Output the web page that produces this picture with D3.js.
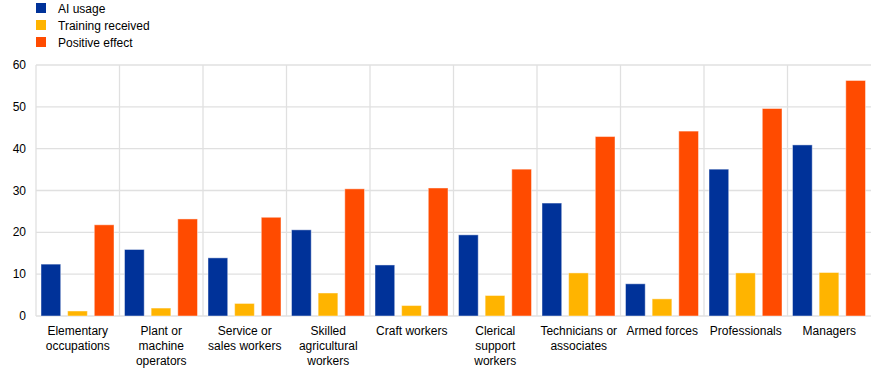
<!DOCTYPE html>
<html><head><meta charset="utf-8">
<script src="https://cdn.jsdelivr.net/npm/d3@7"></script>
<style>body{margin:0;background:#fff}svg{display:block;font-family:"Liberation Sans",Arial,sans-serif}</style>
</head><body><svg id="c" width="876" height="375"></svg>
<script>
const categories = [["Elementary","occupations"],["Plant or","machine","operators"],["Service or","sales workers"],["Skilled","agricultural","workers"],["Craft workers"],["Clerical","support","workers"],["Technicians or","associates"],["Armed forces"],["Professionals"],["Managers"]];
const seriesNames = ["AI usage","Training received","Positive effect"];
const aiUsage = [12.4, 15.9, 13.9, 20.6, 12.2, 19.4, 27.0, 7.7, 35.1, 40.9];
const training = [1.2, 1.9, 3.0, 5.5, 2.5, 4.9, 10.3, 4.1, 10.3, 10.4];
const positive = [21.8, 23.2, 23.6, 30.4, 30.6, 35.1, 42.9, 44.2, 49.6, 56.3];
const yTicks = [0,10,20,30,40,50,60];
const colors = ["#003299","#FFB400","#FF4B00"];

const series = [aiUsage, training, positive];
const svg = d3.select("#c");
const L = 36, R = 871, T = 65, B = 316;
const x = d3.scaleBand().domain(d3.range(categories.length)).range([L, R]);
const xs = d3.scaleBand().domain(d3.range(3)).range([5, x.bandwidth()-5.5]).paddingInner(0.26);
const y = d3.scaleLinear().domain([0,60]).range([B, T]);

// horizontal gridlines
svg.append("g").selectAll("line").data(yTicks).join("line")
  .attr("x1", L).attr("x2", R).attr("y1", d=>y(d)).attr("y2", d=>y(d))
  .attr("stroke", "#e0e0e0").attr("stroke-width", 1.3);
// vertical gridlines
svg.append("g").selectAll("line").data(d3.range(categories.length)).join("line")
  .attr("x1", d=>x(d)).attr("x2", d=>x(d)).attr("y1", T).attr("y2", B)
  .attr("stroke", "#e0e0e0").attr("stroke-width", 1.3);

// y labels
svg.append("g").selectAll("text").data(yTicks).join("text")
  .attr("x", 26).attr("y", d=>y(d)+4).attr("text-anchor","end")
  .attr("font-size", 12).attr("fill","#000").text(d=>d);

// bars
series.forEach((vals, si) => {
  svg.append("g").selectAll("rect").data(vals).join("rect")
    .attr("x", (d,i)=>x(i)+xs(si)).attr("width", xs.bandwidth())
    .attr("y", d=>y(d)).attr("height", d=>B - y(d))
    .attr("fill", colors[si]).attr("stroke","#fff").attr("stroke-opacity",0.45).attr("stroke-width",1);
});

// x labels
const xl = svg.append("g").selectAll("text").data(categories).join("text")
  .attr("x", (d,i)=>x(i)+x.bandwidth()/2).attr("y", 335)
  .attr("text-anchor","middle").attr("font-size",12).attr("fill","#000");
xl.selectAll("tspan").data(d=>d).join("tspan")
  .attr("x", function(){return this.parentNode.getAttribute("x");})
  .attr("dy", (d,i)=> i===0 ? 0 : 15).text(d=>d);

// legend
const lg = svg.append("g").selectAll("g").data(seriesNames).join("g")
  .attr("transform", (d,i)=>`translate(36,${3+i*17})`);
lg.append("rect").attr("width",10).attr("height",10).attr("fill",(d,i)=>colors[i]);
lg.append("text").attr("x",22).attr("y",9.5).attr("font-size",12).text(d=>d);
</script></body></html>
